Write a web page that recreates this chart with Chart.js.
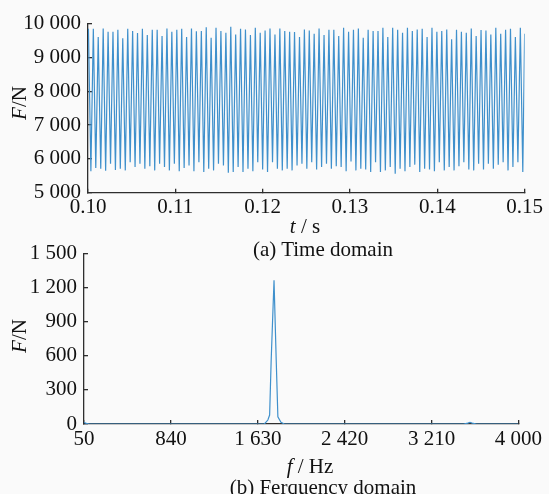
<!DOCTYPE html>
<html>
<head>
<meta charset="utf-8">
<script src="https://cdn.jsdelivr.net/npm/chart.js@4.4.1/dist/chart.umd.min.js"></script>
<style>
  body { margin: 0; background: #fafafa; }
  #wrap { position: relative; width: 549px; height: 494px; overflow: hidden; }
  canvas { position: absolute; left: 0; }
  .lbl { position: absolute; font-family: "Liberation Serif", serif; font-size: 21px; line-height: 21px; color: #111; white-space: nowrap; transform: translateX(-50%); }
  .rot { position: absolute; font-family: "Liberation Serif", serif; font-size: 21px; line-height: 21px; color: #111; white-space: nowrap; transform: translate(-50%, -50%) rotate(-90deg); }
</style>
</head>
<body>
<div id="wrap">
  <canvas id="timeChart" width="549" height="230" style="top:0"></canvas>
  <canvas id="freqChart" width="549" height="264" style="top:230px"></canvas>
  <div class="rot" style="left:19px;top:103px"><i>F</i>/N</div>
  <div class="lbl" style="left:305px;top:216px"><i>t</i> / s</div>
  <div class="lbl" style="left:323px;top:239px">(a) Time domain</div>
  <div class="rot" style="left:19px;top:336px"><i>F</i>/N</div>
  <div class="lbl" style="left:310px;top:456px"><i>f</i> / Hz</div>
  <div class="lbl" style="left:323px;top:477px">(b) Ferquency domain</div>
</div>
<script>
// (a) time signal: turning points
const timeS = [
  0.10005,0.10033,0.10061,0.10089,0.10117,0.10146,0.10174,0.10202,0.10230,0.10258,
  0.10286,0.10314,0.10342,0.10370,0.10398,0.10427,0.10455,0.10483,0.10511,0.10539,
  0.10567,0.10595,0.10623,0.10651,0.10679,0.10708,0.10736,0.10764,0.10792,0.10820,
  0.10848,0.10876,0.10904,0.10932,0.10960,0.10989,0.11017,0.11045,0.11073,0.11101,
  0.11129,0.11157,0.11185,0.11213,0.11241,0.11270,0.11298,0.11326,0.11354,0.11382,
  0.11410,0.11438,0.11466,0.11494,0.11522,0.11551,0.11579,0.11607,0.11635,0.11663,
  0.11691,0.11719,0.11747,0.11775,0.11803,0.11832,0.11860,0.11888,0.11916,0.11944,
  0.11972,0.12000,0.12028,0.12056,0.12084,0.12113,0.12141,0.12169,0.12197,0.12225,
  0.12253,0.12281,0.12309,0.12337,0.12365,0.12394,0.12422,0.12450,0.12478,0.12506,
  0.12534,0.12562,0.12590,0.12618,0.12646,0.12675,0.12703,0.12731,0.12759,0.12787,
  0.12815,0.12843,0.12871,0.12899,0.12927,0.12956,0.12984,0.13012,0.13040,0.13068,
  0.13096,0.13124,0.13152,0.13180,0.13208,0.13237,0.13265,0.13293,0.13321,0.13349,
  0.13377,0.13405,0.13433,0.13461,0.13489,0.13518,0.13546,0.13574,0.13602,0.13630,
  0.13658,0.13686,0.13714,0.13742,0.13770,0.13799,0.13827,0.13855,0.13883,0.13911,
  0.13939,0.13967,0.13995,0.14023,0.14051,0.14080,0.14108,0.14136,0.14164,0.14192,
  0.14220,0.14248,0.14276,0.14304,0.14332,0.14361,0.14389,0.14417,0.14445,0.14473,
  0.14501,0.14529,0.14557,0.14585,0.14613,0.14642,0.14670,0.14698,0.14726,0.14754,
  0.14782,0.14810,0.14838,0.14866,0.14894,0.14923,0.14951,0.14979,0.15000
];
const peakForce = [
  9850,9846,9604,9856,9759,9759,9817,9565,9846,9778,9720,9846,9662,9817,9817,9633,
  9856,9759,9817,9846,9604,9856,9770,9778,9894,9584,9875,9778,9730,9904,9681,9846,
  9827,9662,9875,9730,9797,9856,9681,9856,9778,9759,9749,9604,9827,9797,9701,9856,
  9662,9817,9817,9633,9875,9759,9817,9856,9584,9817,9778,9778,9875,9604,9875,9817,
  9730,9875,9778,9827,9846,9604,9875,9759,9778,9827,9535,9817,9759,9730,9856,9633,
  9807,9797,9681,9875,9701,9817,9846,9604,9875
];
const troughForce = [
  5631,5728,5708,5650,5854,5670,5708,5660,5902,5757,5854,5708,5785,5660,5854,5757,
  5660,5854,5631,5728,5805,5631,5902,5611,5708,5660,5854,5805,5592,5611,5757,5611,
  5708,5631,5902,5689,5611,5902,5708,5660,5708,5660,5805,5854,5708,5902,5689,5757,
  5854,5708,5785,5757,5631,5920,5660,5708,5689,5611,5902,5611,5660,5757,5563,5708,
  5631,5757,5830,5611,5708,5689,5631,5902,5660,5757,5660,5785,5902,5689,5660,5854,
  5689,5854,5708,5825,5902,5660,5757,5902,5611
];
const endForce = 9700;

// (b) spectrum
const freqHz = [50, 70, 100, 1690, 1722, 1738, 1752, 1778, 1798, 1813, 1841, 1872, 3500, 3540, 3560, 3580, 3620, 4000];
const ampN   = [15, 5, 0, 0, 35, 79, 559, 1265, 559, 64, 15, 0, 0, 8, 15, 8, 0, 0];

const timeTicks  = [0.10, 0.11, 0.12, 0.13, 0.14, 0.15];
const forceTicks = [5000, 6000, 7000, 8000, 9000, 10000];
const freqTicks  = [50, 840, 1630, 2420, 3210, 4000];
const ampTicks   = [0, 300, 600, 900, 1200, 1500];

const lineBlue = '#3f90cc';
const axisColor = '#2e2e2e';

Chart.defaults.font.family = '"Liberation Serif", serif';
Chart.defaults.font.size = 21;
Chart.defaults.color = '#111';

function spaced(v) {
  return String(Math.round(v)).replace(/\B(?=(\d{3})+(?!\d))/g, ' ');
}

function axis(ticksArr, fmt, pad, extra) {
  return Object.assign({
    type: 'linear',
    min: ticksArr[0],
    max: ticksArr[ticksArr.length - 1],
    afterBuildTicks: s => { s.ticks = ticksArr.map(v => ({ value: v })); },
    ticks: { autoSkip: false, maxRotation: 0, padding: pad, callback: fmt },
    grid: { drawOnChartArea: false, drawTicks: true, tickLength: -4, color: axisColor, lineWidth: 1.3 },
    border: { display: true, color: axisColor, width: 1.3 }
  }, extra);
}

const timePoints = timeS.map((t, j) => {
  let f;
  if (j === timeS.length - 1) f = endForce;
  else if (j % 2 === 0) f = peakForce[j / 2];
  else f = troughForce[(j - 1) / 2];
  return { x: t, y: f };
});

new Chart(document.getElementById('timeChart'), {
  type: 'line',
  data: { datasets: [{ data: timePoints, borderColor: lineBlue, borderWidth: 1.2, pointRadius: 0, tension: 0, fill: false }] },
  options: {
    responsive: false, animation: false, events: [],
    layout: { padding: { top: 20.7, right: 22, bottom: 0, left: 0 } },
    plugins: { legend: { display: false }, tooltip: { enabled: false } },
    scales: {
      x: axis(timeTicks, v => v.toFixed(2), 6, { afterFit: s => { s.height = 37.3; } }),
      y: axis(forceTicks, v => spaced(v), 11, { afterFit: s => { s.width = 88; } })
    }
  }
});

const specPoints = freqHz.map((f, i) => ({ x: f, y: ampN[i] }));

new Chart(document.getElementById('freqChart'), {
  type: 'line',
  data: { datasets: [{ data: specPoints, borderColor: lineBlue, borderWidth: 1.2, pointRadius: 0, tension: 0, fill: false }] },
  options: {
    responsive: false, animation: false, events: [],
    layout: { padding: { top: 22.3, right: 25.7, bottom: 0, left: 0 } },
    plugins: { legend: { display: false }, tooltip: { enabled: false } },
    scales: {
      x: axis(freqTicks, v => spaced(v), 7, { z: 1, afterFit: s => { s.height = 70; } }),
      y: axis(ampTicks, v => spaced(v), 11, { afterFit: s => { s.width = 84; } })
    }
  }
});
</script>
</body>
</html>
